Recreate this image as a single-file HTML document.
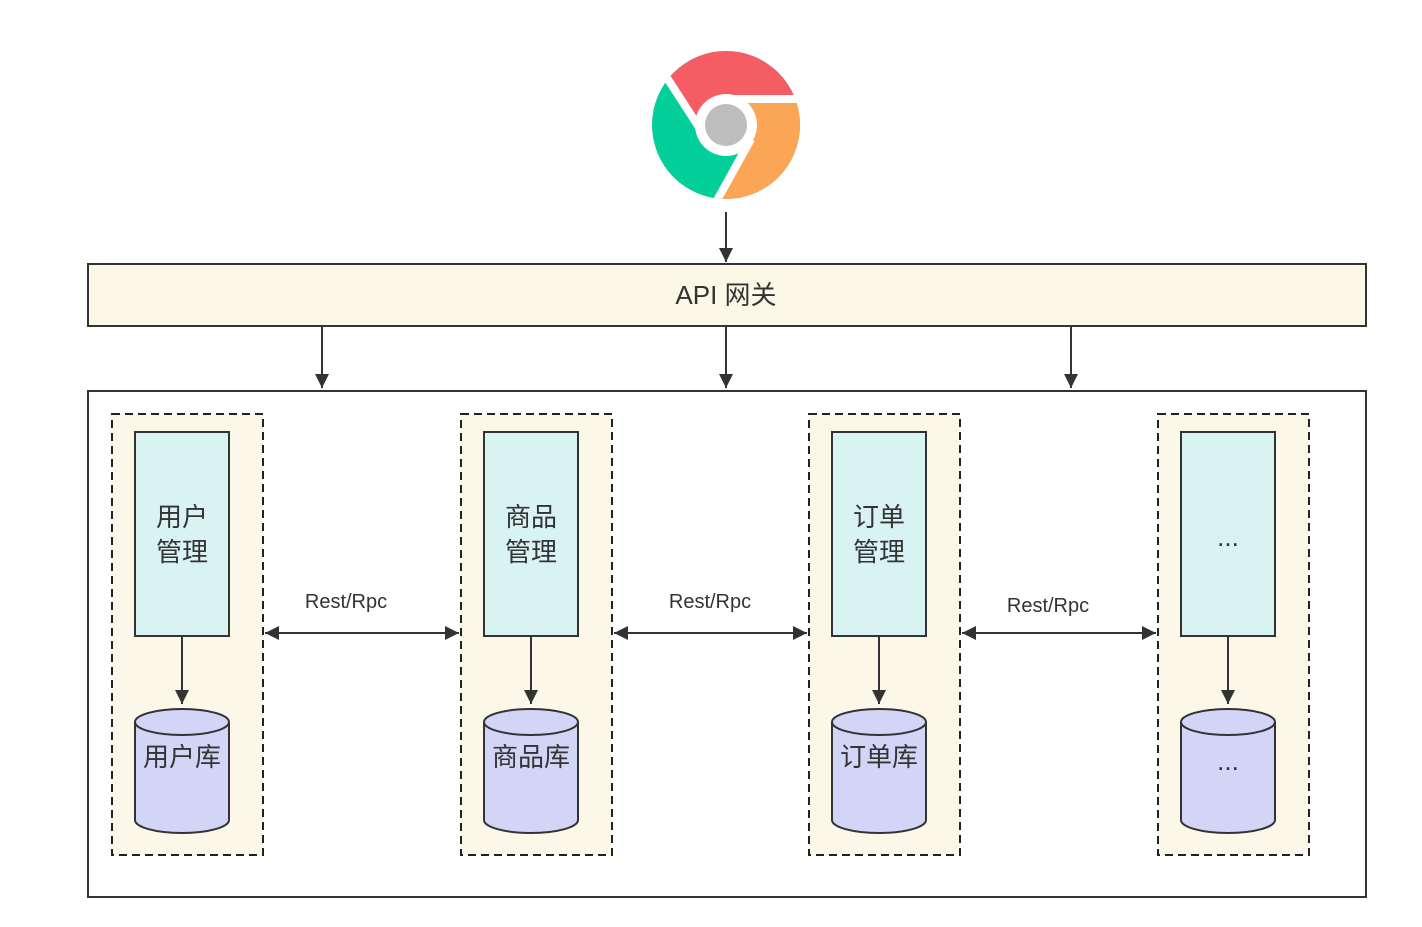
<!DOCTYPE html>
<html><head><meta charset="utf-8"><style>body{margin:0;background:#fff}svg{display:block}text{font-family:"Liberation Sans","Noto Sans CJK SC",sans-serif;fill:#333}</style></head><body>
<svg width="1422" height="927" viewBox="0 0 1422 927" xmlns="http://www.w3.org/2000/svg">
<defs><marker id="a" viewBox="0 0 10 10" refX="10" refY="5" markerWidth="14" markerHeight="14" markerUnits="userSpaceOnUse" orient="auto-start-reverse"><path d="M0,0L10,5L0,10z" fill="#333"/></marker>
<clipPath id="cc"><circle cx="726" cy="125" r="74"/></clipPath></defs>
<!-- logo -->
<g clip-path="url(#cc)">
<rect x="640" y="40" width="180" height="180" fill="#03cf9a"/>
<polygon points="636,30 830,30 830,99 730,99 706,138" fill="#f55c63"/>
<polygon points="830,99 830,240 694,240 751,139 745,99" fill="#fba556"/>
<g stroke="#fff" stroke-width="8"><line x1="660" y1="67" x2="706" y2="138"/><line x1="730" y1="99" x2="830" y2="99"/><line x1="705" y1="222" x2="751" y2="139"/></g>
</g>
<circle cx="726" cy="125" r="31" fill="#fff"/><circle cx="726" cy="125" r="21" fill="#bdbdbd"/>
<line x1="726" y1="212" x2="726" y2="262" stroke="#333" stroke-width="2" marker-end="url(#a)"/>
<rect x="88" y="264" width="1278" height="62" fill="#fbf8e7" stroke="#333" stroke-width="2"/>
<text x="726" y="304" font-size="26" text-anchor="middle">API 网关</text>
<g stroke="#333" stroke-width="2"><line x1="322" y1="327" x2="322" y2="388" marker-end="url(#a)"/><line x1="726" y1="327" x2="726" y2="388" marker-end="url(#a)"/><line x1="1071" y1="327" x2="1071" y2="388" marker-end="url(#a)"/></g>
<rect x="88" y="391" width="1278" height="506" fill="#fff" stroke="#333" stroke-width="2"/>
<g id="c0">
<rect x="112" y="414" width="151" height="441" fill="#fbf8ea" stroke="#222" stroke-width="2" stroke-dasharray="8,5"/>
<rect x="135" y="432" width="94" height="204" fill="#d9f3f2" stroke="#333" stroke-width="2"/>
<line x1="182" y1="636" x2="182" y2="704" stroke="#333" stroke-width="2" marker-end="url(#a)"/>
<path d="M135,722V820A47,13 0 0 0 229,820V722" fill="#d3d5f7" stroke="#333" stroke-width="2"/>
<ellipse cx="182" cy="722" rx="47" ry="13" fill="#d3d5f7" stroke="#333" stroke-width="2"/>
</g>
<use href="#c0" x="349"/><use href="#c0" x="697"/><use href="#c0" x="1046"/>
<g font-size="26" text-anchor="middle">
<text x="182" y="526">用户</text><text x="182" y="561">管理</text><text x="182" y="766">用户库</text>
<text x="531" y="526">商品</text><text x="531" y="561">管理</text><text x="531" y="766">商品库</text>
<text x="879" y="526">订单</text><text x="879" y="561">管理</text><text x="879" y="766">订单库</text>
<text x="1228" y="546">...</text><text x="1228" y="770">...</text>
</g>
<g stroke="#333" stroke-width="2"><line x1="265" y1="633" x2="459" y2="633" marker-start="url(#a)" marker-end="url(#a)"/><line x1="614" y1="633" x2="807" y2="633" marker-start="url(#a)" marker-end="url(#a)"/><line x1="962" y1="633" x2="1156" y2="633" marker-start="url(#a)" marker-end="url(#a)"/></g>
<g font-size="20" text-anchor="middle"><text x="346" y="608">Rest/Rpc</text><text x="710" y="608">Rest/Rpc</text><text x="1048" y="612">Rest/Rpc</text></g>
</svg></body></html>
